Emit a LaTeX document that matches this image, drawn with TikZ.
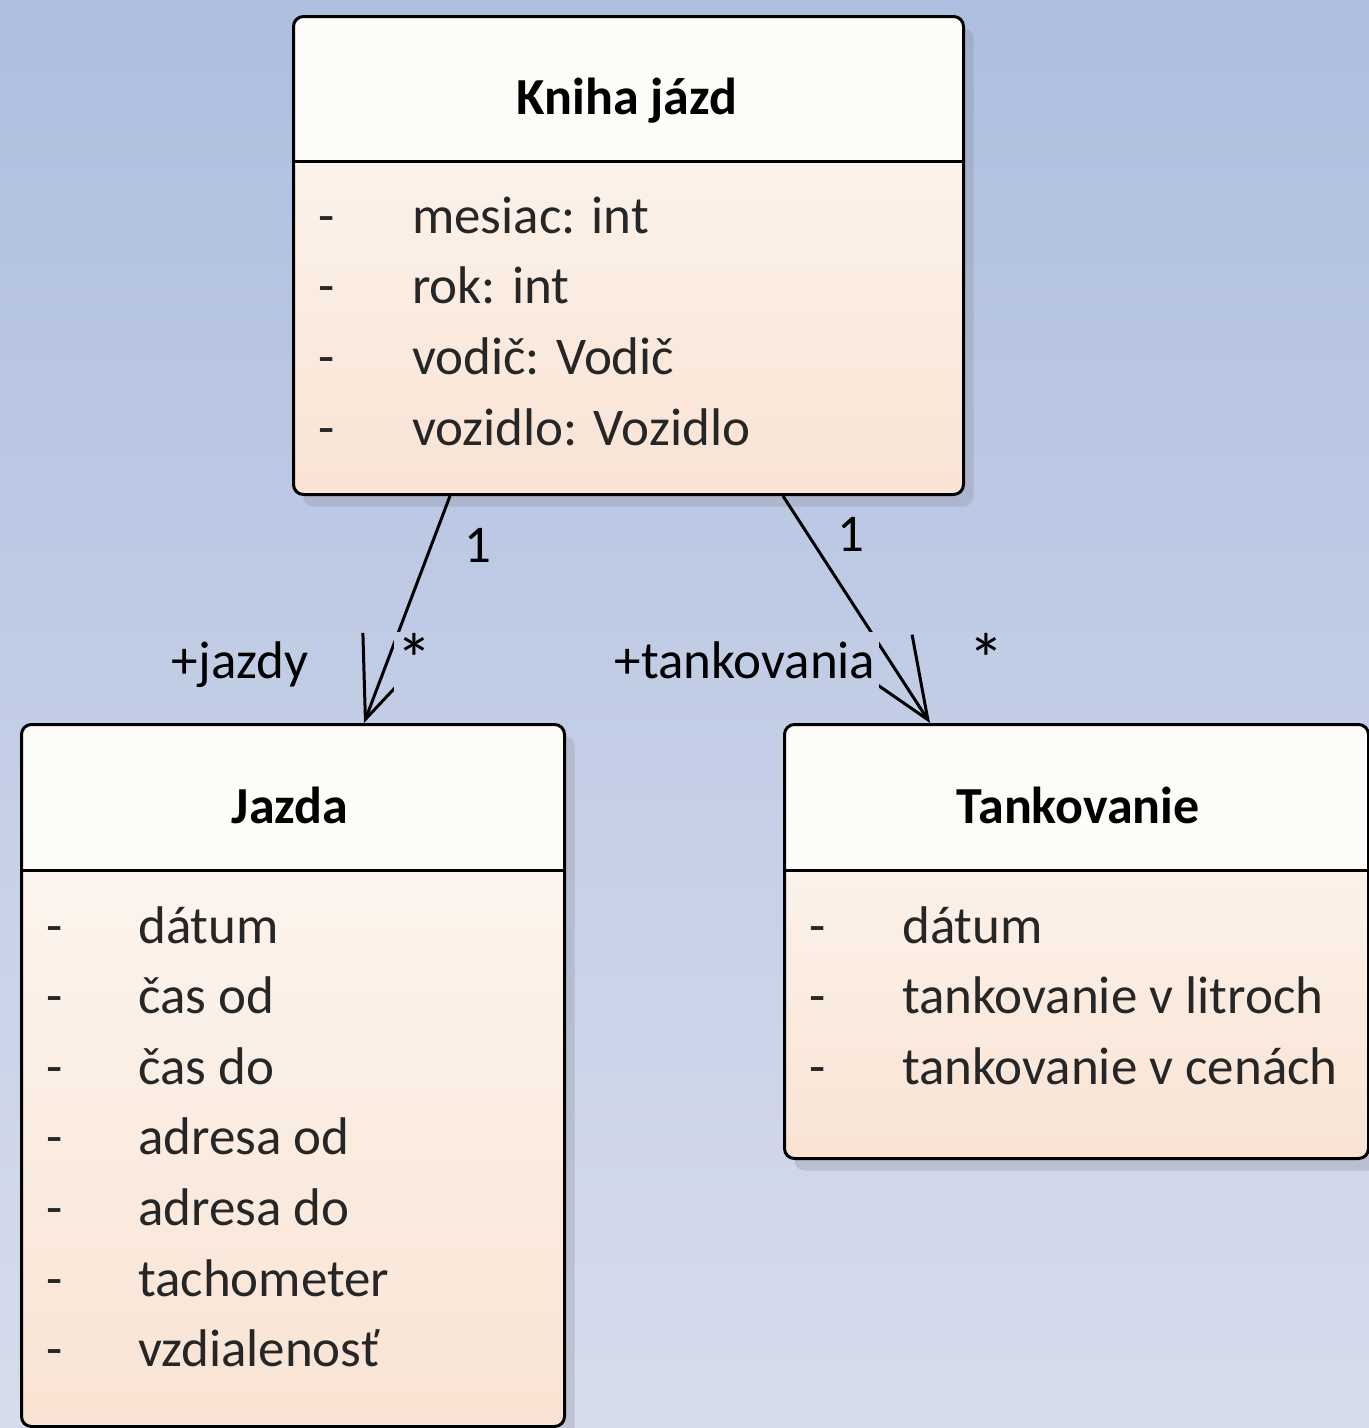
\documentclass[tikz,border=0pt]{standalone}
\usepackage{fontspec}
\setmainfont{Carlito}
\usetikzlibrary{arrows.meta,shadows}
\definecolor{bgtop}{RGB}{173,190,223}
\definecolor{bgbot}{RGB}{215,220,236}
\definecolor{boxtop}{RGB}{254,252,249}
\definecolor{bodytop}{RGB}{253,249,245}
\definecolor{boxbot}{RGB}{249,227,211}
\definecolor{labelbg}{RGB}{193,204,229}
\definecolor{attrcol}{RGB}{38,38,38}
\definecolor{shadowcol}{RGB}{140,140,150}
\begin{document}
\begin{tikzpicture}[x=1pt,y=-1pt,
  font=\fontsize{53pt}{60pt}\selectfont,
  umlbox/.style={draw=black, line width=3pt, rounded corners=10pt, fill=boxtop,
    anchor=north west, inner sep=0pt,
    drop shadow={shadow xshift=10pt, shadow yshift=-12pt, fill=shadowcol, opacity=0.3},
    path picture={\shade[top color=bodytop, bottom color=boxbot]
      ([yshift=-146pt]path picture bounding box.north west) rectangle
      (path picture bounding box.south east);}},
  sepline/.style={draw=black, line width=3pt},
  classtitle/.style={anchor=base, font=\fontsize{52pt}{60pt}\selectfont\bfseries, text=black, inner sep=0pt},
  attrdash/.style={anchor=base, text=attrcol, inner sep=0pt},
  attr/.style={anchor=base west, text=attrcol, inner sep=0pt},
  assoc/.style={draw=black, line width=3pt, -{Straight Barb[length=80pt,width=66pt]}},
  rolelabel/.style={anchor=base, fill=labelbg, text=black, text height=44pt, text depth=12pt, inner xsep=4pt, inner ysep=2pt},
  starlabel/.style={rolelabel, font=\fontsize{72pt}{72pt}\selectfont, text height=50pt, text depth=14pt, inner xsep=2pt},
  multlabel/.style={anchor=base, text=black, inner sep=1pt}
]
\useasboundingbox (0,0) rectangle (1369,1428);
\shade[top color=bgtop, bottom color=bgbot] (0,0) rectangle (1369,1428);

% class boxes
\node[umlbox, minimum width=670pt, minimum height=478pt] (kniha) at (292,15) {};
\node[umlbox, minimum width=543pt, minimum height=702pt] (jazda) at (20,723) {};
\node[umlbox, minimum width=584pt, minimum height=434pt] (tank) at (783,723) {};

\draw[sepline] ([yshift=-146pt]kniha.north west) -- ([yshift=-146pt]kniha.north east);
\draw[sepline] ([yshift=-147pt]jazda.north west) -- ([yshift=-147pt]jazda.north east);
\draw[sepline] ([yshift=-147pt]tank.north west) -- ([yshift=-147pt]tank.north east);

% titles
\node[classtitle] (knihaT) at (627,114) {Kniha jázd};
\node[classtitle] (jazdaT) at (290,823) {Jazda};
\node[classtitle] (tankT) at (1078,823) {Tankovanie};

% attributes
\foreach \t [count=\i] in {mesiac: int, rok: int, vodič: Vodič, vozidlo: Vozidlo} {
  \node[attrdash] (kd\i) at (327,{233+70.7*(\i-1)}) {-};
  \node[attr] (ka\i) at (412,{233+70.7*(\i-1)}) {\t};
}
\foreach \t [count=\i] in {dátum, čas od, čas do, adresa od, adresa do, tachometer, vzdialenosť} {
  \node[attrdash] (jd\i) at (55,{943+70.6*(\i-1)}) {-};
  \node[attr] (ja\i) at (138,{943+70.6*(\i-1)}) {\t};
}
\foreach \t [count=\i] in {dátum, tankovanie v litroch, tankovanie v cenách} {
  \node[attrdash] (td\i) at (818,{943+70.6*(\i-1)}) {-};
  \node[attr] (ta\i) at (902,{943+70.6*(\i-1)}) {\t};
}

% connector end points on the boxes
\coordinate (kj) at ([xshift=158pt]kniha.south west);
\coordinate (jt) at ([xshift=344pt]jazda.north west);
\coordinate (kt) at ([xshift=491pt]kniha.south west);
\coordinate (tt) at ([xshift=147pt]tank.north west);

\draw[assoc] (kj) -- (jt);
\draw[assoc] (kt) -- (tt);

% labels
\node[multlabel] (m1) at (478,562) {1};
\node[multlabel] (m2) at (851,551) {1};
\node[starlabel] (s1) at (414,684) {*};
\node[rolelabel] (r1) at (240,678) {+jazdy};
\node[rolelabel] (r2) at (745,678) {+tankovania};
\node[starlabel] (s2) at (986,684) {*};
\end{tikzpicture}
\end{document}
